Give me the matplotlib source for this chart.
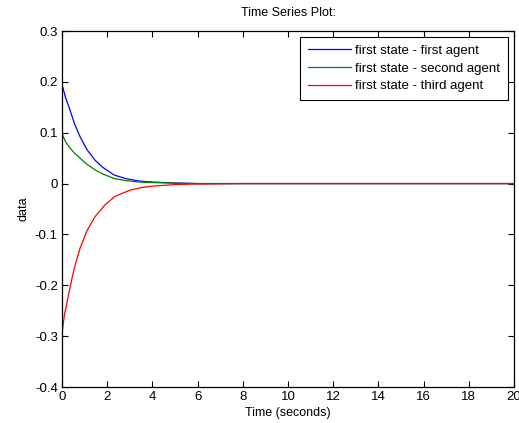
import matplotlib
matplotlib.use("Agg")
import matplotlib.pyplot as plt

plt.rcParams["font.family"] = ["Liberation Sans", "DejaVu Sans"]

# ---- Datos -----------------------------------------------------------------
t_blue = [0, 0.15, 0.35, 0.55, 0.8, 1.1, 1.46, 1.8, 2.3, 2.8, 3.4, 4.0, 5.0, 6.0, 8.0, 20.0]
y_blue = [0.195, 0.17, 0.145, 0.118, 0.092, 0.067, 0.046, 0.032, 0.017, 0.010, 0.005, 0.003, 0.001, 0.0, 0.0, 0.0]

t_green = [0, 0.15, 0.35, 0.55, 0.8, 1.1, 1.46, 1.8, 2.3, 2.8, 3.4, 4.0, 5.0, 6.0, 8.0, 20.0]
y_green = [0.098, 0.083, 0.070, 0.060, 0.050, 0.038, 0.027, 0.019, 0.010, 0.006, 0.003, 0.002, 0.001, 0.0, 0.0, 0.0]

t_red = [0, 0.1, 0.35, 0.55, 0.8, 1.1, 1.46, 1.9, 2.35, 3.0, 3.5, 4.0, 5.0, 5.8, 8.0, 20.0]
y_red = [-0.295, -0.26, -0.205, -0.165, -0.127, -0.093, -0.065, -0.042, -0.025, -0.013, -0.008, -0.005, -0.002, -0.001, 0.0, 0.0]

labels = ["first state - first agent", "first state - second agent", "first state - third agent"]
x_ticks = list(range(0, 21, 2))
y_ticks = [-0.4, -0.3, -0.2, -0.1, 0, 0.1, 0.2, 0.3]
y_tick_labels = ["-0.4", "-0.3", "-0.2", "-0.1", "0", "0.1", "0.2", "0.3"]

# ---- Figura ----------------------------------------------------------------
fig = plt.figure(figsize=(5.19, 4.23), dpi=100)
ax = fig.add_axes([0.1195, 0.0851, 0.8710, 0.8416])

ax.plot(t_blue, y_blue, color="#0000ff", lw=0.9, label=labels[0])
ax.plot(t_green, y_green, color="#008000", lw=0.9, label=labels[1])
ax.plot(t_red, y_red, color="#ff0000", lw=0.9, label=labels[2])

ax.set_xlim(0, 20)
ax.set_ylim(-0.4, 0.3)
ax.set_xticks(x_ticks)
ax.set_yticks(y_ticks)
ax.set_yticklabels(y_tick_labels)
ax.tick_params(direction="in", length=4, width=0.8, top=True, right=True,
               labelsize=9.5, pad=3)
for sp in ax.spines.values():
    sp.set_linewidth(0.9)

ax.set_title("Time Series Plot:", fontsize=9, pad=11)
ax.set_xlabel("Time (seconds)", fontsize=9, labelpad=3)
ax.set_ylabel("data", fontsize=9, labelpad=4)

leg = ax.legend(loc="upper right", fontsize=9.5, fancybox=False, framealpha=1,
                edgecolor="black", borderaxespad=0.45, handlelength=3.3,
                handletextpad=0.3, labelspacing=0.4, borderpad=0.6)
leg.get_frame().set_linewidth(0.8)

fig.savefig("out.png", dpi=100)
